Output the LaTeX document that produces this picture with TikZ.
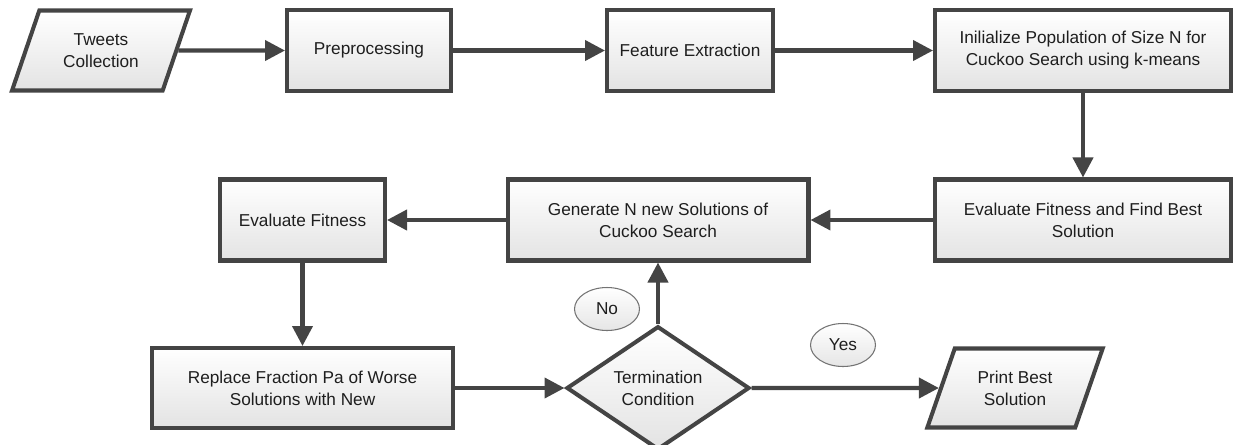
\documentclass[tikz,border=0pt]{standalone}
\usepackage{fontspec}
\setmainfont{Liberation Sans}
\usetikzlibrary{arrows.meta, shapes.geometric}

\begin{document}
\begin{tikzpicture}[x=0.02cm, y=-0.02cm,
    every node/.style={font=\fontsize{9.8}{12.5}\selectfont, text=textColour, align=center},
    stepbox/.style={rectangle, draw=borderColour, line width=2.3pt, top color=white, bottom color=black!11, minimum height=1.62cm, inner sep=2pt},
    iobox/.style={trapezium, trapezium left angle=65, trapezium right angle=115, trapezium stretches=true, draw=borderColour, line width=2.3pt, top color=white, bottom color=black!11, minimum height=1.6cm, inner sep=1pt},
    decision/.style={diamond, draw=borderColour, line width=2.3pt, top color=white, bottom color=black!11, minimum width=3.66cm, minimum height=2.12cm, inner sep=0pt},
    answer/.style={ellipse, draw=black!55, line width=0.6pt, top color=white, bottom color=black!10, minimum width=1.3cm, minimum height=0.86cm, inner sep=0pt},
    flow/.style={draw=borderColour, line width=2.3pt, -{Triangle[length=0.4cm, width=0.4cm]}}]
    % Define colours
    \definecolor{borderColour}{HTML}{444444}
    \definecolor{textColour}{HTML}{1E1E1E}

    % Fix picture size
    \useasboundingbox (0,0) rectangle (1244,444);

    % Top row
    \node[iobox, minimum width=3.56cm] (tweets) at (101,50.5) {Tweets\\Collection};
    \node[stepbox, minimum width=3.28cm] (prep) at (369,50.5) {Preprocessing};
    \node[stepbox, minimum width=3.32cm] (feat) at (690,50.5) {Feature Extraction};
    \node[stepbox, minimum width=5.92cm] (init) at (1083,50.5) {Inilialize Population of Size N for\\Cuckoo Search using k-means};

    % Middle row
    \node[stepbox, minimum width=5.92cm] (evalbest) at (1083,220) {Evaluate Fitness and Find Best\\Solution};
    \node[stepbox, minimum width=6.02cm] (gen) at (658,220) {Generate N new Solutions of\\Cuckoo Search};
    \node[stepbox, minimum width=3.3cm] (evalfit) at (302.5,220) {Evaluate Fitness};

    % Bottom row
    \node[stepbox, minimum width=6.02cm, minimum height=1.6cm] (replace) at (302.5,388) {Replace Fraction Pa of Worse\\Solutions with New};
    \node[decision] (term) at (658,388) {Termination\\Condition};
    \node[iobox, minimum width=3.52cm, minimum height=1.58cm] (print) at (1015,388) {Print Best\\Solution};

    % Answer labels
    \node[answer] (no) at (607,309) {No};
    \node[answer] (yes) at (843,345) {Yes};

    % Draw the flow
    \draw[flow] (tweets) -- (prep);
    \draw[flow] (prep) -- (feat);
    \draw[flow] (feat) -- (init);
    \draw[flow] (init) -- (evalbest);
    \draw[flow] (evalbest) -- (gen);
    \draw[flow] (gen) -- (evalfit);
    \draw[flow] (evalfit) -- (replace);
    \draw[flow] (replace) -- (term);
    \draw[flow] (term) -- (gen);
    \draw[flow] (term) -- (print);

\end{tikzpicture}
\end{document}
